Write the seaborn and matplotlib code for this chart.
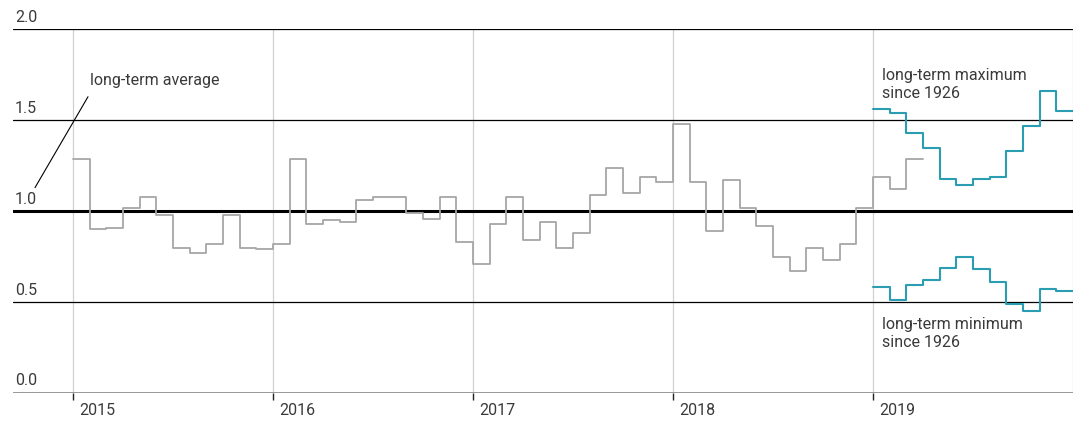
import numpy as np
import pandas as pd
import matplotlib
matplotlib.use("Agg")
import matplotlib.pyplot as plt
import seaborn as sns

# monthly values, relative to long-term average
years = [2015, 2016, 2017, 2018, 2019]
actual = [
    1.29, 0.90, 0.91, 1.02, 1.08, 0.98, 0.80, 0.77, 0.82, 0.98, 0.80, 0.79,  # 2015
    0.82, 1.29, 0.93, 0.95, 0.94, 1.06, 1.08, 1.08, 0.99, 0.96, 1.08, 0.83,  # 2016
    0.71, 0.93, 1.08, 0.84, 0.94, 0.80, 0.88, 1.09, 1.24, 1.10, 1.19, 1.16,  # 2017
    1.48, 1.16, 0.89, 1.17, 1.02, 0.92, 0.75, 0.67, 0.80, 0.73, 0.82, 1.02,  # 2018
    1.19, 1.12, 1.29,                                                          # 2019
]
lt_max = [1.56, 1.54, 1.43, 1.35, 1.18, 1.145, 1.18, 1.19, 1.33, 1.47, 1.66, 1.55]
lt_min = [0.583, 0.51, 0.594, 0.62, 0.69, 0.75, 0.68, 0.61, 0.49, 0.45, 0.57, 0.56]

yticks = [0.0, 0.5, 1.0, 1.5, 2.0]

GREY = "#a6a6a6"
TEAL = "#2a9db3"
TEXT = "#3a3a3a"
FS = 11.5


def steps(start, vals):
    # x = decimal year at month start, last value repeated to close the step
    x = start + np.arange(len(vals) + 1) / 12
    return pd.DataFrame({"x": x, "y": list(vals) + [vals[-1]]})


sns.set_style("white")
plt.rcParams["font.family"] = ["Roboto", "DejaVu Sans"]

fig = plt.figure(figsize=(10.76, 4.25), dpi=100)
ax = fig.add_axes([13 / 1076, 1 - 393 / 425, 1060 / 1076, 363.5 / 425])

# grid
for yv in yticks[1:]:
    ax.axhline(yv, color="black", lw=2.2 if yv == 1.0 else 0.9, zorder=1)
ax.axhline(0, color="#888888", lw=1.2, zorder=1)
for yr in years + [2020]:
    ax.axvline(yr, color="#d0d0d0", lw=0.9, zorder=0)

d_act = steps(2015, actual)
d_max = steps(2019, lt_max)
d_min = steps(2019, lt_min)
sns.lineplot(data=d_act, x="x", y="y", drawstyle="steps-post", color=GREY, lw=1.3, ax=ax, zorder=3)
sns.lineplot(data=d_max, x="x", y="y", drawstyle="steps-post", color=TEAL, lw=1.5, ax=ax, zorder=3)
sns.lineplot(data=d_min, x="x", y="y", drawstyle="steps-post", color=TEAL, lw=1.5, ax=ax, zorder=3)

ax.set_xlim(2015 - 60 / 200, 2020)
ax.set_ylim(0, 2.0)
for s in ax.spines.values():
    s.set_visible(False)
ax.set_xticks(years)
ax.set_xticklabels([])
ax.tick_params(axis="x", bottom=True, direction="out", length=5, width=1,
               color="#222222", pad=0)
ax.set_yticks([])
ax.set_xlabel("")
ax.set_ylabel("")

# y labels sit above their lines
for yv in yticks:
    ax.text(2015 - 58 / 200, yv + 0.025, f"{yv:.1f}", fontsize=FS, color=TEXT,
            ha="left", va="bottom")
for yr in years:
    ax.text(yr + 6 / 200, -0.095, str(yr), fontsize=FS, color=TEXT,
            ha="left", va="center")

ax.text(2015 + 17 / 200, 1.72, "long-term average", fontsize=FS, color=TEXT,
        ha="left", va="center")
ax.plot([2015 + 15 / 200, 2015 - 38 / 200], [1.63, 1.13], color="black", lw=0.8)
ax.text(2019 + 9 / 200, 1.79, "long-term maximum\nsince 1926", fontsize=FS,
        color=TEXT, ha="left", va="top", linespacing=1.3)
ax.text(2019 + 9 / 200, 0.42, "long-term minimum\nsince 1926", fontsize=FS,
        color=TEXT, ha="left", va="top", linespacing=1.3)

fig.savefig("out.png", dpi=100)
